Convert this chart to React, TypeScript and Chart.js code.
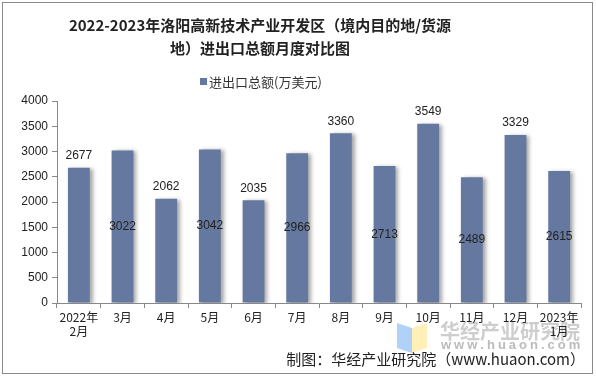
import React, { useEffect, useRef } from "react";
import { Chart, registerables } from "chart.js";

Chart.register(...registerables);

const titleLines = ["2022-2023年洛阳高新技术产业开发区（境内目的地/货源", "地）进出口总额月度对比图"];
const seriesName = "进出口总额(万美元)";
const categories: string[][] = [
  ["2022年", "2月"], ["3月"], ["4月"], ["5月"], ["6月"], ["7月"],
  ["8月"], ["9月"], ["10月"], ["11月"], ["12月"], ["2023年", "1月"],
];
const values = [2677, 3022, 2062, 3042, 2035, 2966, 3360, 2713, 3549, 2489, 3329, 2615];
const yTicks = [0, 500, 1000, 1500, 2000, 2500, 3000, 3500, 4000];
const footer = "制图：华经产业研究院（www.huaon.com）";

const BAR = "#65789f";
const SANS = "'Liberation Sans', Arial, sans-serif";
const CJK = "'Noto Sans CJK SC', 'Liberation Sans', sans-serif";

const decorPlugin = {
  id: "decor",
  beforeDraw(chart: any) {
    const ctx = chart.ctx;
    ctx.save();
    ctx.fillStyle = "#fff";
    ctx.fillRect(0, 0, chart.width, chart.height);
    ctx.strokeStyle = "#8a8a8a";
    ctx.lineWidth = 1;
    ctx.strokeRect(2.5, 2.5, 590, 371);
    // title
    ctx.fillStyle = "#222";
    ctx.textAlign = "center";
    ctx.textBaseline = "middle";
    ctx.font = `bold 15px ${CJK}`;
    ctx.fillText(titleLines[0], 260, 25);
    ctx.fillText(titleLines[1], 260, 48);
    // legend
    ctx.font = `13px ${CJK}`;
    ctx.textAlign = "left";
    ctx.fillStyle = BAR;
    ctx.fillRect(200, 78, 7, 7);
    ctx.fillStyle = "#333";
    ctx.fillText(seriesName, 209, 82);
    // watermark
    ctx.fillStyle = "rgba(150,195,245,0.75)";
    ctx.beginPath();
    ctx.moveTo(397, 323);
    ctx.lineTo(412, 328);
    ctx.lineTo(412, 353);
    ctx.lineTo(397, 348);
    ctx.closePath();
    ctx.fill();
    ctx.fillStyle = "rgba(255,235,160,0.75)";
    ctx.beginPath();
    ctx.moveTo(412, 328);
    ctx.lineTo(427, 323);
    ctx.lineTo(427, 348);
    ctx.lineTo(412, 353);
    ctx.closePath();
    ctx.fill();
    ctx.fillStyle = "rgba(185,185,185,0.7)";
    ctx.font = `bold 20px ${CJK}`;
    ctx.textAlign = "left";
    ctx.fillText("华经产业研究院", 440, 331);
    ctx.fillStyle = "rgba(170,170,170,0.8)";
    ctx.font = `bold 13px ${SANS}`;
    const wm = "www.huaon.com";
    let x = 441;
    for (const ch of wm) {
      ctx.fillText(ch, x, 345);
      x += ctx.measureText(ch).width + 3;
    }
    ctx.restore();
  },
  beforeDatasetsDraw(chart: any) {
    const ctx = chart.ctx;
    ctx.save();
    ctx.shadowColor = "rgba(0,0,0,0.35)";
    ctx.shadowOffsetX = 3;
    ctx.shadowOffsetY = 1;
    ctx.shadowBlur = 4;
  },
  afterDatasetsDraw(chart: any) {
    const ctx = chart.ctx;
    ctx.restore();
    ctx.save();
    const meta = chart.getDatasetMeta(0);
    ctx.font = `12px ${SANS}`;
    ctx.fillStyle = "#222";
    ctx.textAlign = "center";
    ctx.textBaseline = "middle";
    meta.data.forEach((bar: any, i: number) => {
      const label = String(values[i]);
      if (i % 2 === 0) {
        ctx.fillText(label, bar.x, bar.y - 12);
      } else {
        ctx.fillText(label, bar.x, (bar.y + bar.base) / 2);
      }
    });
    ctx.font = `15px ${CJK}`;
    ctx.fillStyle = "#222";
    ctx.textAlign = "right";
    ctx.fillText(footer, 585, 359);
    ctx.restore();
  },
};

export default function App() {
  const ref = useRef<HTMLCanvasElement>(null);
  useEffect(() => {
    if (!ref.current) return;
    const chart = new Chart(ref.current, {
      type: "bar",
      data: {
        labels: categories,
        datasets: [
          {
            label: seriesName,
            data: values,
            backgroundColor: BAR,
            barPercentage: 0.5,
            categoryPercentage: 1,
          },
        ],
      },
      options: {
        responsive: false,
        animation: false,
        devicePixelRatio: 1,
        layout: { padding: { top: 101, left: 0, right: 15, bottom: 33 } },
        plugins: {
          legend: { display: false },
          title: { display: false },
          tooltip: { enabled: false },
        },
        scales: {
          x: {
            afterFit: (s: any) => { s.height = 40; },
            grid: {
              offset: true,
              drawOnChartArea: false,
              drawTicks: true,
              tickLength: 5,
              color: "#888",
            },
            border: { color: "#888" },
            ticks: {
              color: "#222",
              font: { family: CJK, size: 12 },
              padding: 2,
              maxRotation: 0,
              autoSkip: false,
            },
          },
          y: {
            min: 0,
            max: 4000,
            afterFit: (s: any) => { s.width = 57; },
            afterBuildTicks: (s: any) => { s.ticks = yTicks.map((v) => ({ value: v })); },
            grid: {
              drawOnChartArea: false,
              drawTicks: true,
              tickLength: 5,
              color: "#888",
            },
            border: { color: "#888" },
            ticks: {
              color: "#222",
              font: { family: SANS, size: 12 },
              padding: 4,
              callback: (v: any) => String(v),
            },
          },
        },
      },
      plugins: [decorPlugin],
    });
    return () => chart.destroy();
  }, []);
  return (
    <div style={{ position: "absolute", left: 0, top: 0, width: 596, height: 376 }}>
      <canvas ref={ref} width={596} height={376} style={{ width: 596, height: 376 }} />
    </div>
  );
}
